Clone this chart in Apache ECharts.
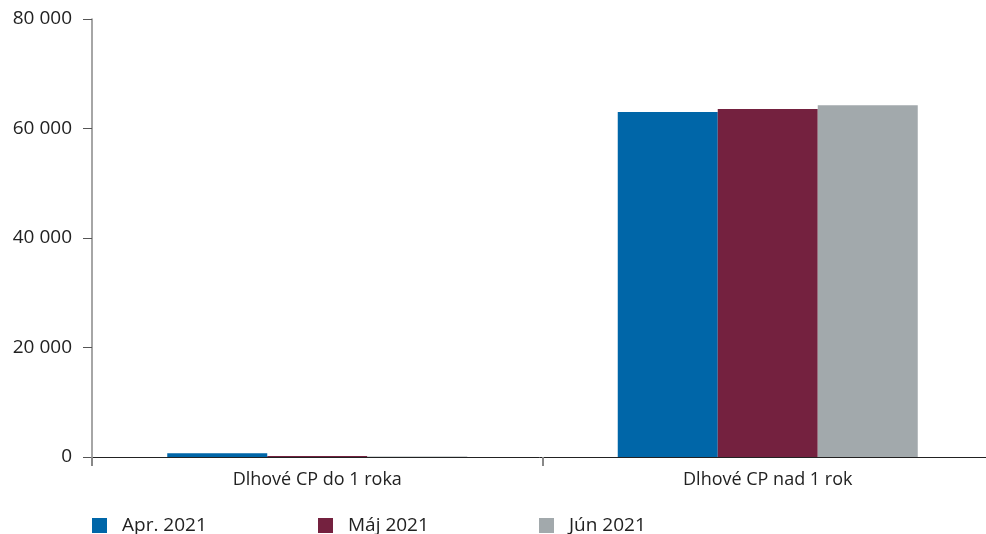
<!DOCTYPE html>
<html>
<head>
<meta charset="utf-8">
<script src="https://cdn.jsdelivr.net/npm/echarts@6/dist/echarts.min.js"></script>
<style>html,body{margin:0;padding:0;background:#fff;}#c{width:986px;height:534px;}</style>
</head>
<body>
<div id="c"></div>
<script>
var categories = ['Dlhové CP do 1 roka', 'Dlhové CP nad 1 rok'];
var seriesNames = ['Apr. 2021', 'Máj 2021', 'Jún 2021'];
var aprValues = [700, 63000];
var majValues = [200, 63550];
var junValues = [100, 64250];
var yTicks = [0, 20000, 40000, 60000, 80000];
var colors = ['#0066A8', '#74213F', '#A2A9AC'];

var font = '"Open Sans", Lato, sans-serif';
var chart = echarts.init(document.getElementById('c'));
function fmt(v){ return String(v).replace(/\B(?=(\d{3})+(?!\d))/g, ' '); }
var legendLefts = [92, 318, 539];
chart.setOption({
  animation: false,
  color: colors,
  grid: { left: 92, top: 19, width: 901, height: 438, containLabel: false, outerBoundsMode: 'none' },
  legend: seriesNames.map(function(n, i){
    return {
      data: [n], left: legendLefts[i], top: 516, padding: 0, itemWidth: 15, itemHeight: 15, itemGap: 0,
      icon: 'rect', textStyle: { fontFamily: font, fontSize: 19, color: '#222', padding: [0,0,0,10] }
    };
  }),
  xAxis: {
    type: 'category', data: categories,
    axisLine: { lineStyle: { color: '#222', width: 1 } },
    axisTick: { show: true, length: 9, lineStyle: { color: '#888', width: 2 } },
    axisLabel: { fontFamily: font, fontSize: 18, color: '#222', margin: 14 }
  },
  yAxis: {
    type: 'value', min: yTicks[0], max: yTicks[yTicks.length-1], interval: yTicks[1]-yTicks[0],
    axisLine: { show: true, lineStyle: { color: '#888', width: 1.5 } },
    axisTick: { show: true, length: 9, lineStyle: { color: '#555', width: 1 } },
    splitLine: { show: false },
    axisLabel: { fontFamily: font, fontSize: 19, color: '#222', margin: 20, formatter: fmt }
  },
  series: [
    { name: seriesNames[0], type: 'bar', data: aprValues, barWidth: 100, barGap: '0%' },
    { name: seriesNames[1], type: 'bar', data: majValues, barWidth: 100, barGap: '0%' },
    { name: seriesNames[2], type: 'bar', data: junValues, barWidth: 100, barGap: '0%' }
  ]
});
</script>
</body>
</html>
